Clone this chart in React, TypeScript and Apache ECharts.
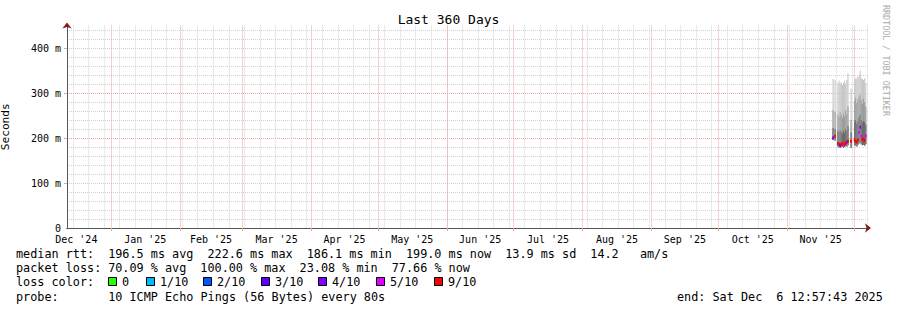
import React, { useEffect, useRef } from 'react';
import * as echarts from 'echarts';

// ---------- axis / tick data ----------
const X_MIN = 0;
const X_MAX = 360; // days shown
const MONTH_LABELS = ["Dec '24", "Jan '25", "Feb '25", "Mar '25", "Apr '25", "May '25", "Jun '25", "Jul '25", "Aug '25", "Sep '25", "Oct '25", "Nov '25"];
// day offsets (from left edge) of the first day of each month, Dec '24 .. Dec '25
const MONTH_START_DAYS = [-11.3, 19.7, 50.7, 78.7, 109.7, 139.7, 170.7, 200.7, 231.7, 262.7, 292.7, 323.7, 353.7];
const FIRST_SUNDAY_DAY = 2.7;
const Y_TICKS = [0, 100, 200, 300, 400];
const Y_LABELS = ['0', '100 m', '200 m', '300 m', '400 m'];

// ---------- series data (ms) ----------
const SLOT_DAYS = 0.5;
const SLOT_DAY = [344.3, 345.2, 346.5, 347.0, 347.5, 348.0, 348.5, 349.0, 349.5, 350.0, 350.5, 351.0, 352.4, 354.0, 354.5, 355.0, 355.5, 356.0, 356.5, 357.0, 357.5, 358.0, 358.5, 359.0];
const SMOKE_MAX = [331, 329, 322, 327, 320, 324, 318, 322, 327, 320, 329, 344, 310, 327, 333, 331, 336, 338, 349, 333, 331, 329, 333, 322];
const SMOKE_UPPER = [262, 258, 252, 246, 258, 250, 244, 255, 248, 262, 252, 270, 240, 282, 290, 278, 286, 292, 296, 284, 276, 288, 280, 270];
const SMOKE_INNER = [222, 220, 216, 212, 218, 214, 210, 216, 212, 220, 216, 226, 212, 236, 240, 232, 238, 246, 252, 240, 234, 238, 236, 230];
const SMOKE_MIN = [196, 194, 181, 179, 178, 180, 181, 178, 180, 182, 181, 184, 178, 184, 183, 181, 185, 188, 190, 186, 184, 185, 183, 186];
const MEDIAN = [200, 204, 188, 186, 184, 186, 188, 184, 186, 189, 191, 193, 193, 195, 193, 191, 196, 213, 224, 204, 196, 198, 195, 205];
const LOSS = [3, 9, 9, 9, 3, 9, 9, 5, 9, 9, 4, 9, 9, 9, 9, 9, 9, 5, 4, 5, 9, 9, 9, 5];

// ---------- legend ----------
const LOSS_LABELS = ['0', '1/10', '2/10', '3/10', '4/10', '5/10', '9/10'];
const LOSS_COLORS = ['#26ff00', '#00b8ff', '#0059ff', '#5e00ff', '#7e00ff', '#dd00ff', '#ff0000'];
const LOSS_BOX_X = [108, 146, 203, 261, 318, 376, 434];
const RTT_STATS = ['196.5 ms avg', '222.6 ms max', '186.1 ms min', '199.0 ms now', '13.9 ms sd', '14.2', 'am/s'];
const RTT_COLS = [13, 27, 41, 55, 69, 81, 88];
const LOSS_STATS = ['70.09 % avg', '100.00 % max', '23.08 % min', '77.66 % now'];
const LOSS_COLS = [13, 26, 40, 53];
const PROBE_TEXT = '10 ICMP Echo Pings (56 Bytes) every 80s';
const END_TEXT = ['end: Sat Dec', '6 12:57:43 2025'];

const MONO = 'DejaVu Sans Mono';

function lossBucket(n: number) {
  if (n <= 4) return n;
  if (n <= 8) return 5;
  return 6;
}

export default function App() {
  const ref = useRef<HTMLDivElement>(null);
  useEffect(() => {
    if (!ref.current) return;
    const chart = echarts.init(ref.current, undefined, { renderer: 'svg' });

    const monthMid: number[] = [];
    for (let i = 0; i < MONTH_LABELS.length; i++) monthMid.push((MONTH_START_DAYS[i] + MONTH_START_DAYS[i + 1]) / 2);
    const monthStarts = MONTH_START_DAYS.filter((d) => d > X_MIN && d < X_MAX);
    const weeks: number[] = [];
    for (let d = FIRST_SUNDAY_DAY; d < X_MAX; d += 7) weeks.push(d);

    const smokeData = SLOT_DAY.map((t, i) => [t, SMOKE_MAX[i], SMOKE_UPPER[i], SMOKE_INNER[i], SMOKE_MIN[i]]);
    const medianData = SLOT_DAY.map((t, i) => [t, MEDIAN[i], LOSS[i]]);

    const COL_W = 7.09;
    const TX0 = 16;
    const ROW_Y = [254, 268, 282, 296.5];
    const LEG_FONT = `11.8px "${MONO}"`;
    const txt = (x: number, y: number, text: string, extra: any = {}) => ({
      type: 'text',
      x,
      y,
      silent: true,
      style: { text, font: LEG_FONT, fill: '#000', textAlign: 'left', textVerticalAlign: 'middle', ...extra },
    });
    const graphics: any[] = [];
    graphics.push(txt(TX0, ROW_Y[0], 'median rtt:'));
    RTT_STATS.forEach((s, i) => graphics.push(txt(TX0 + RTT_COLS[i] * COL_W, ROW_Y[0], s)));
    graphics.push(txt(TX0, ROW_Y[1], 'packet loss:'));
    LOSS_STATS.forEach((s, i) => graphics.push(txt(TX0 + LOSS_COLS[i] * COL_W, ROW_Y[1], s)));
    graphics.push(txt(TX0, ROW_Y[2], 'loss color:'));
    LOSS_LABELS.forEach((s, i) => {
      graphics.push({
        type: 'rect',
        shape: { x: LOSS_BOX_X[i] + 0.5, y: ROW_Y[2] - 4.5, width: 8, height: 8 },
        style: { fill: LOSS_COLORS[i], stroke: '#000', lineWidth: 1 },
        silent: true,
      });
      graphics.push(txt(LOSS_BOX_X[i] + 14, ROW_Y[2], s));
    });
    graphics.push(txt(TX0, ROW_Y[3], 'probe:'));
    graphics.push(txt(TX0 + 13 * COL_W, ROW_Y[3], PROBE_TEXT));
    const endX = 677;
    graphics.push(txt(endX, ROW_Y[3], END_TEXT[0]));
    graphics.push(txt(endX + 14 * COL_W, ROW_Y[3], END_TEXT[1]));
    graphics.push({
      type: 'text',
      x: 886,
      y: 5,
      rotation: -Math.PI / 2,
      silent: true,
      style: { text: 'RRDTOOL / TOBI OETIKER', font: `8.4px "${MONO}"`, fill: '#aaaaaa', textAlign: 'left', textVerticalAlign: 'middle' },
    });

    const xBase = { type: 'value', min: X_MIN, max: X_MAX, gridIndex: 0, position: 'bottom' };
    const yBase = { type: 'value', min: 0, max: 450, gridIndex: 0, position: 'left' };
    const minorColor = '#d2d2d2';
    const majorColor = '#f3a0a0';
    const arrowColor = '#7f1d1d';
    const axisColor = '#555555';

    chart.setOption({
      animation: false,
      backgroundColor: '#ffffff',
      title: {
        text: 'Last 360 Days',
        left: 'center',
        top: 8,
        textStyle: { fontFamily: MONO, fontSize: 13, fontWeight: 'normal', color: '#000' },
      },
      grid: { left: 67, right: 29, top: 25.5, bottom: 82, containLabel: false, outerBoundsMode: 'none' },
      xAxis: [
        {
          ...xBase,
          axisLine: { show: true, onZero: false, symbol: ['none', 'arrow'], symbolSize: [7, 6], symbolOffset: [0, 3], lineStyle: { color: arrowColor, width: 1 } },
          axisTick: { show: false },
          splitLine: { show: false },
          axisLabel: {
            customValues: monthMid,
            margin: 6,
            fontFamily: MONO,
            fontSize: 10,
            color: '#000000',
            formatter: (v: number) => {
              const i = monthMid.findIndex((m) => Math.abs(m - v) < 0.01);
              return i >= 0 ? MONTH_LABELS[i] : '';
            },
          },
        },
        {
          ...xBase,
          axisLine: { show: false, onZero: false },
          axisTick: { show: false, customValues: weeks },
          axisLabel: { show: false },
          splitLine: { show: true, lineStyle: { color: minorColor, width: 1, type: [1, 1] } },
        },
        {
          ...xBase,
          axisLine: { show: true, onZero: false, lineStyle: { color: axisColor, width: 1 } },
          axisTick: { show: true, customValues: monthStarts, length: 3, lineStyle: { color: majorColor } },
          axisLabel: { show: false },
          splitLine: { show: true, lineStyle: { color: majorColor, width: 1, type: [1, 1] } },
        },
      ],
      yAxis: [
        {
          ...yBase,
          interval: 20,
          axisLine: { show: false, onZero: false },
          axisTick: { show: false },
          axisLabel: { show: false },
          splitLine: { show: true, showMinLine: false, showMaxLine: false, lineStyle: { color: minorColor, width: 1, type: [1, 1] } },
        },
        {
          ...yBase,
          name: 'Seconds',
          nameLocation: 'middle',
          nameGap: 56,
          nameRotate: 90,
          nameTextStyle: { fontFamily: MONO, fontSize: 11.2, color: '#000' },
          axisLine: { show: true, onZero: false, symbol: ['none', 'arrow'], symbolSize: [7, 6], symbolOffset: [0, 3], lineStyle: { color: arrowColor, width: 1 } },
          axisTick: { show: false },
          splitLine: { show: false },
          axisLabel: {
            customValues: Y_TICKS,
            margin: 6,
            fontFamily: MONO,
            fontSize: 10,
            color: '#000000',
            formatter: (v: number) => {
              const i = Y_TICKS.indexOf(v);
              return i >= 0 ? Y_LABELS[i] : '';
            },
          },
        },
        {
          ...yBase,
          axisLine: { show: true, onZero: false, lineStyle: { color: axisColor, width: 1 } },
          axisTick: { show: true, customValues: [100, 200, 300, 400], length: 3, lineStyle: { color: majorColor } },
          axisLabel: { show: false },
          splitLine: { show: true, showMinLine: false, showMaxLine: false, lineStyle: { color: majorColor, width: 1, type: [1, 1] } },
        },
      ],
      graphic: graphics,
      series: [
        {
          type: 'custom',
          name: 'smoke',
          xAxisIndex: 0,
          yAxisIndex: 1,
          clip: true,
          encode: { x: 0, y: [1, 2, 3, 4] },
          data: smokeData,
          renderItem: (params: any, api: any) => {
            const t = api.value(0);
            const xl = api.coord([t - SLOT_DAYS / 2, 0])[0];
            const xr = api.coord([t + SLOT_DAYS / 2, 0])[0];
            const w = xr - xl;
            const yMax = api.coord([t, api.value(1)])[1];
            const yUp = api.coord([t, api.value(2)])[1];
            const yIn = api.coord([t, api.value(3)])[1];
            const yMin = api.coord([t, api.value(4)])[1];
            return {
              type: 'group',
              children: [
                { type: 'rect', shape: { x: xl, y: yMax, width: w, height: yMin - yMax }, style: { fill: '#c6c6c6' } },
                { type: 'rect', shape: { x: xl, y: yUp, width: w, height: yMin - yUp }, style: { fill: '#9c9c9c' } },
                { type: 'rect', shape: { x: xl, y: yIn, width: w, height: yMin - yIn }, style: { fill: '#6a6a6a' } },
              ],
            };
          },
        },
        {
          type: 'custom',
          name: 'median',
          xAxisIndex: 0,
          yAxisIndex: 1,
          clip: true,
          encode: { x: 0, y: 1 },
          data: medianData,
          renderItem: (params: any, api: any) => {
            const t = api.value(0);
            const xl = api.coord([t - SLOT_DAYS / 2, 0])[0];
            const xr = api.coord([t + SLOT_DAYS / 2, 0])[0];
            const y = api.coord([t, api.value(1)])[1];
            const color = LOSS_COLORS[lossBucket(api.value(2))];
            return {
              type: 'rect',
              shape: { x: xl - 0.3, y: y - 1.5, width: xr - xl + 0.6, height: 3 },
              style: { fill: color },
            };
          },
        },
      ],
    });
    return () => chart.dispose();
  }, []);
  return <div ref={ref} style={{ width: 897, height: 310, position: 'absolute', left: 0, top: 0 }} />;
}
